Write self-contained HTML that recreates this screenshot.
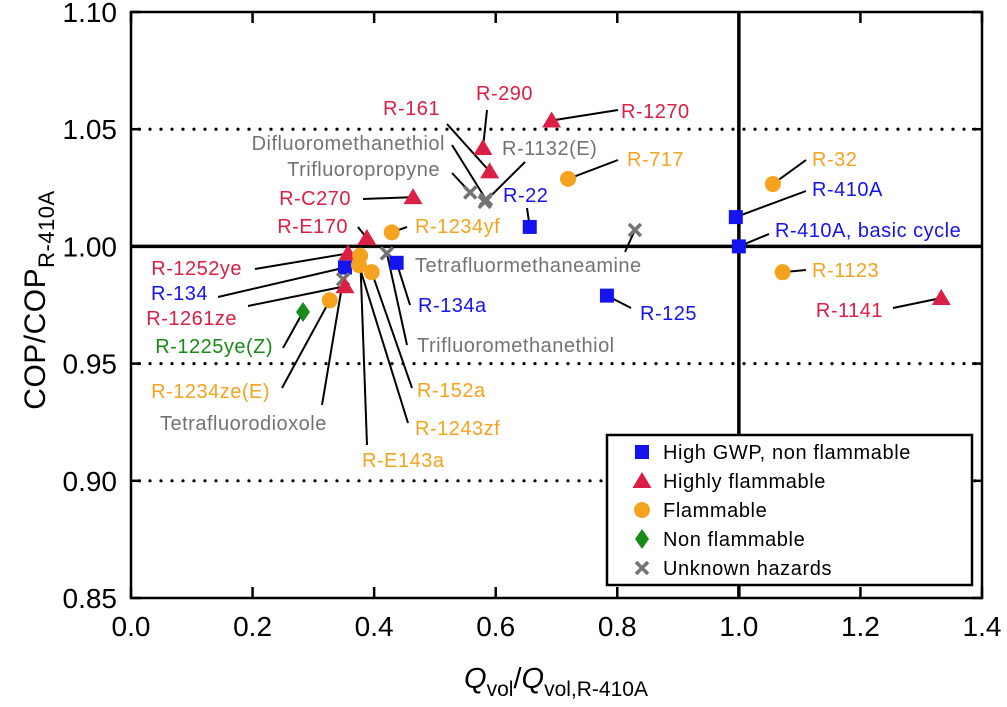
<!DOCTYPE html>
<html><head><meta charset="utf-8">
<style>
html,body{margin:0;padding:0;background:#fff;}
svg{display:block;font-family:"Liberation Sans",Arial,sans-serif;}
</style></head>
<body>
<svg id="chart" width="1007" height="707" viewBox="0 0 1007 707" xmlns="http://www.w3.org/2000/svg">
  <g id="grid"></g>
  <g id="axes"></g>
  <g id="leaders"></g>
  <g id="marks"></g>
  <g id="labels"></g>
  <g id="legend"></g>
  <text transform="translate(45,300) rotate(-90)" text-anchor="middle" font-size="30" letter-spacing="0.5" fill="#000">COP/COP<tspan font-size="22" dy="9">R-410A</tspan></text>
  <text x="556" y="688" text-anchor="middle" font-size="29" fill="#000"><tspan font-style="italic">Q</tspan><tspan font-size="21" dy="8">vol</tspan><tspan dy="-8">/</tspan><tspan font-style="italic">Q</tspan><tspan font-size="21" dy="8">vol,R-410A</tspan></text>
</svg>
<script>
// ---- data ----
const names = ["R-290","R-161","R-1132(E)","Difluoromethanethiol","Trifluoropropyne","R-C270","R-E170","R-1234yf","Trifluoromethanethiol","R-134a","R-1252ye","R-134","Tetrafluorodioxole","R-1261ze","R-E143a","R-1243zf","R-152a","R-1234ze(E)","R-1225ye(Z)","R-1270","R-717","R-22","Tetrafluormethaneamine","R-125","R-32","R-410A","R-410A, basic cycle","R-1123","R-1141"];
const qvol = [0.579,0.590,0.582,0.584,0.558,0.464,0.388,0.429,0.421,0.437,0.357,0.352,0.349,0.352,0.377,0.375,0.396,0.327,0.283,0.692,0.719,0.656,0.829,0.783,1.056,0.995,1.000,1.072,1.333];
const cop = [1.042,1.032,1.019,1.020,1.023,1.021,1.0036,1.006,0.997,0.993,0.997,0.991,0.986,0.983,0.996,0.992,0.989,0.977,0.972,1.0537,1.0288,1.0083,1.007,0.979,1.0266,1.0125,1.000,0.989,0.978];
const kinds = ["hf","hf","uk","uk","uk","hf","hf","fl","uk","gwp","hf","gwp","uk","hf","fl","fl","fl","fl","nf","hf","fl","gwp","uk","gwp","fl","gwp","gwp","fl","hf"];
const xTicks = [0.0,0.2,0.4,0.6,0.8,1.0,1.2,1.4];
const xTickLabels = ["0.0","0.2","0.4","0.6","0.8","1.0","1.2","1.4"];
const yTicks = [0.85,0.90,0.95,1.00,1.05,1.10];
const yTickLabels = ["0.85","0.90","0.95","1.00","1.05","1.10"];
const dottedAt = [0.90,0.95,1.05];
const legendKinds = ["gwp","hf","fl","nf","uk"];
const legendTexts = ["High GWP, non flammable","Highly flammable","Flammable","Non flammable","Unknown hazards"];

// ---- scales ----
const X0=131,X1=982,Y0=598,Y1=12;
const xs = v => X0 + (v-0)/(1.4-0)*(X1-X0);
const ys = v => Y0 - (v-0.85)/(1.10-0.85)*(Y0-Y1);
const NS="http://www.w3.org/2000/svg";
const COL={gwp:"#1414f0",hf:"#dc1f44",fl:"#f5a31e",nf:"#178a17",uk:"#737373"};
const TCOL={gwp:"#1414f0",hf:"#dc1f44",fl:"#f5a31e",nf:"#178a17",uk:"#737373"};
function el(tag,attrs,parent){const e=document.createElementNS(NS,tag);for(const k in attrs)e.setAttribute(k,attrs[k]);parent.appendChild(e);return e;}

const grid=document.getElementById('grid'), axes=document.getElementById('axes');
dottedAt.forEach(v=>{
  const l=el('line',{x1:X0+8,x2:X1-4,y1:ys(v),y2:ys(v),stroke:"#000","stroke-width":3.2,"stroke-dasharray":"0 11","stroke-linecap":"round"},grid);
  
  
});
let r=el('line',{x1:X0,x2:X1,y1:ys(1.0),y2:ys(1.0),stroke:"#000","stroke-width":3.5},grid);


r=el('line',{x1:xs(1.0),x2:xs(1.0),y1:Y1,y2:Y0,stroke:"#000","stroke-width":3.5},grid);



const frame=el('rect',{x:X0,y:Y1,width:X1-X0,height:Y0-Y1,fill:"none",stroke:"#000","stroke-width":2.5},axes);


xTicks.forEach((v,i)=>{
  el('line',{x1:xs(v),x2:xs(v),y1:Y0,y2:Y0-11,stroke:"#000","stroke-width":2.5},axes);
  el('line',{x1:xs(v),x2:xs(v),y1:Y1,y2:Y1+11,stroke:"#000","stroke-width":2.5},axes);
  const t=el('text',{x:xs(v),y:636,"text-anchor":"middle","font-size":28,fill:"#000"},axes);
  t.textContent=xTickLabels[i];
  
  
});
yTicks.forEach((v,i)=>{
  el('line',{x1:X0,x2:X0+10,y1:ys(v),y2:ys(v),stroke:"#000","stroke-width":2.5},axes);
  el('line',{x1:X1,x2:X1-10,y1:ys(v),y2:ys(v),stroke:"#000","stroke-width":2.5},axes);
  const t=el('text',{x:117,y:ys(v)+10,"text-anchor":"end","font-size":28,fill:"#000"},axes);
  t.textContent=yTickLabels[i];
  
  
});

function marker(kind,cx,cy,parent){
  const c=COL[kind];let m;
  if(kind==="gwp") m=el('rect',{x:cx-7,y:cy-7,width:14,height:14,fill:c},parent);
  else if(kind==="hf") m=el('polygon',{points:`${cx},${cy-9} ${cx+9.5},${cy+7} ${cx-9.5},${cy+7}`,fill:c},parent);
  else if(kind==="fl") m=el('circle',{cx:cx,cy:cy,r:8,fill:c},parent);
  else if(kind==="nf") m=el('polygon',{points:`${cx},${cy-10} ${cx+7},${cy} ${cx},${cy+10} ${cx-7},${cy}`,fill:c},parent);
  else { m=el('path',{d:`M${cx-6} ${cy-6}L${cx+6} ${cy+6}M${cx+6} ${cy-6}L${cx-6} ${cy+6}`,stroke:c,"stroke-width":3.5,fill:"none"},parent); }
  return m;
}

// label annotations: [text x, text y, anchor, leader start x, leader start y]
const ann = {
 "R-290":[476,100,"start",487,110],
 "R-161":[440,115,"end",447,124],
 "R-1132(E)":[502,155,"start",525,162],
 "Difluoromethanethiol":[445,150,"end",452,145],
 "Trifluoropropyne":[440,176,"end",452,173],
 "R-C270":[351,205,"end",363,199],
 "R-E170":[348,233,"end",358,227],
 "R-1234yf":[415,233,"start",407,227],
 "Trifluoromethanethiol":[417,352,"start",407,345],
 "R-134a":[418,312,"start",410,305],
 "R-1252ye":[242,275,"end",255,269],
 "R-134":[208,300,"end",218,297],
 "Tetrafluorodioxole":[160,430,"start",322,405],
 "R-1261ze":[237,325,"end",248,306],
 "R-E143a":[362,467,"start",367,445],
 "R-1243zf":[415,435,"start",408,423],
 "R-152a":[417,397,"start",412,388],
 "R-1234ze(E)":[270,398,"end",282,388],
 "R-1225ye(Z)":[273,353,"end",283,348],
 "R-1270":[621,118,"start",618,110],
 "R-717":[627,166,"start",618,160],
 "R-22":[503,202,"start",527,208],
 "Tetrafluormethaneamine":[415,272,"start",625,252],
 "R-125":[640,320,"start",631,308],
 "R-32":[812,166,"start",806,160],
 "R-410A":[812,196,"start",806,191],
 "R-410A, basic cycle":[775,237,"start",769,234],
 "R-1123":[812,277,"start",806,270],
 "R-1141":[883,317,"end",893,308]
};
const leaders=document.getElementById('leaders'), marks=document.getElementById('marks'), labels=document.getElementById('labels');
names.forEach((n,i)=>{
  const cx=xs(qvol[i]), cy=ys(cop[i]);
  const a=ann[n];
  if(a){
    const l=el('line',{x1:a[3],y1:a[4],x2:cx,y2:cy,stroke:"#000","stroke-width":2},leaders);
    
    
    const t=el('text',{x:a[0],y:a[1],"text-anchor":a[2],"font-size":20,"letter-spacing":0.5,fill:TCOL[kinds[i]]},labels);
    t.textContent=n;
    
    
  }
});
names.forEach((n,i)=>{
  const m=marker(kinds[i],xs(qvol[i]),ys(cop[i]),marks);
  
  
});

// legend
const lg=document.getElementById('legend');
const box=el('rect',{x:607,y:435,width:365,height:150,fill:"#fff",stroke:"#000","stroke-width":2.5},lg);


legendKinds.forEach((k,i)=>{
  const y=452+i*29;
  const m=marker(k,642,y,lg);
  
  
  const t=el('text',{x:663,y:y+7,"font-size":20,"letter-spacing":0.6,fill:"#000"},lg);
  t.textContent=legendTexts[i];
  
  
});
</script>
</body></html>
